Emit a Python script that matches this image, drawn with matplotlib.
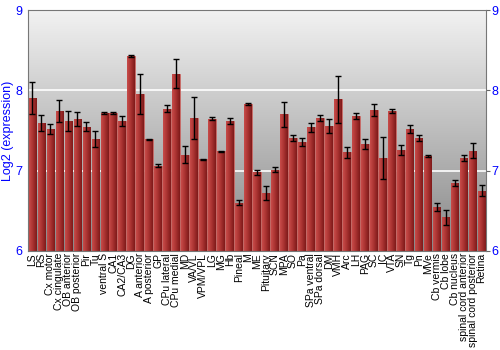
import numpy as np
import matplotlib
matplotlib.use("Agg")
import matplotlib.pyplot as plt
from matplotlib.colors import LinearSegmentedColormap

plt.rcParams['font.family'] = ['Liberation Sans', 'DejaVu Sans']

# regions and values
regions = ["LS", "RS", "Cx motor", "Cx cingulate", "OB anterior", "OB posterior",
           "Pir", "Tu", "ventral S", "CA1", "CA2/CA3", "DG", "A anterior",
           "A posterior", "GP", "CPu lateral", "CPu medial", "MD", "VA/VL",
           "VPM/VPL", "LG", "MG", "Hb", "Pineal", "M", "ME", "Pituitary", "SCN",
           "MPA", "SO", "Pa", "SPa ventral", "SPa dorsal", "DM", "VMH", "Arc",
           "LH", "PAG", "SC", "IC", "VTA", "SN", "Tg", "Pn", "MVe", "Cb vermis",
           "Cb lobe", "Cb nucleus", "spinal cord anterior", "spinal cord posterior",
           "Retina"]
expr = [7.90, 7.59, 7.52, 7.74, 7.62, 7.64, 7.55, 7.39, 7.72, 7.72, 7.62, 8.43,
        7.96, 7.39, 7.06, 7.77, 8.21, 7.20, 7.66, 7.14, 7.65, 7.24, 7.62, 6.60,
        7.83, 6.98, 6.72, 7.01, 7.70, 7.41, 7.36, 7.54, 7.66, 7.56, 7.89, 7.23,
        7.68, 7.33, 7.76, 7.16, 7.74, 7.26, 7.52, 7.41, 7.18, 6.55, 6.42, 6.85,
        7.16, 7.25, 6.75]
err = [0.20, 0.10, 0.06, 0.135, 0.125, 0.085, 0.06, 0.10, 0.015, 0.01, 0.06, 0.015,
       0.25, 0.01, 0.02, 0.045, 0.18, 0.11, 0.26, 0.01, 0.015, 0.005, 0.04, 0.03,
       0.01, 0.03, 0.09, 0.03, 0.15, 0.04, 0.05, 0.06, 0.035, 0.09, 0.295, 0.07,
       0.04, 0.065, 0.075, 0.26, 0.025, 0.06, 0.045, 0.04, 0.01, 0.05, 0.095, 0.04,
       0.04, 0.095, 0.07]

fig = plt.figure(figsize=(5, 3.5), dpi=100)
ax = fig.add_axes([0.056, 0.283, 0.916, 0.688])

x = np.arange(len(regions))
xmax = len(regions) - 0.5

# gray gradient background
bg = LinearSegmentedColormap.from_list("bg", ["#888888", "#f2f2f2"])
ax.imshow(np.linspace(0, 1, 256).reshape(-1, 1), cmap=bg, aspect="auto",
          extent=[-0.5, xmax, 6, 9], origin="lower", zorder=0)

for yv in [7, 8]:
    ax.axhline(yv, color="white", lw=1.2, zorder=1)

bars = ax.bar(x, np.array(expr) - 6, bottom=6, width=0.85, color="#b03a38",
              edgecolor="#c96a66", linewidth=0.6, zorder=2)

# horizontal red gradient inside each bar
red = LinearSegmentedColormap.from_list("red", ["#c84c4a", "#a83230", "#7e1a1a"])
grad = np.linspace(0, 1, 64).reshape(1, -1)
for b in bars:
    x0 = b.get_x()
    im = ax.imshow(grad, cmap=red, aspect="auto",
                   extent=[x0, x0 + b.get_width(), 6, b.get_y() + b.get_height()],
                   zorder=2.5)
    im.set_clip_path(b)

ax.errorbar(x, expr, yerr=err, fmt="none", ecolor="black", elinewidth=1,
            capsize=2, capthick=1, zorder=3)

ax.set_xlim(-0.5, xmax)
ax.set_ylim(6, 9)
ax.set_xticks(x)
ax.set_xticklabels(regions, rotation=90, fontsize=7.5)
ax.tick_params(axis="x", length=0, pad=1.5)
ax.set_yticks([6, 7, 8, 9])
ax.tick_params(axis="y", colors="#666666", labelcolor="blue", labelsize=9,
               length=3, right=True, labelright=True, left=False, pad=1)
ax.set_ylabel("Log2 (expression)", color="blue", fontsize=9, labelpad=1)

for s in ax.spines.values():
    s.set_color("#777777")

fig.savefig("out.png", dpi=100)
